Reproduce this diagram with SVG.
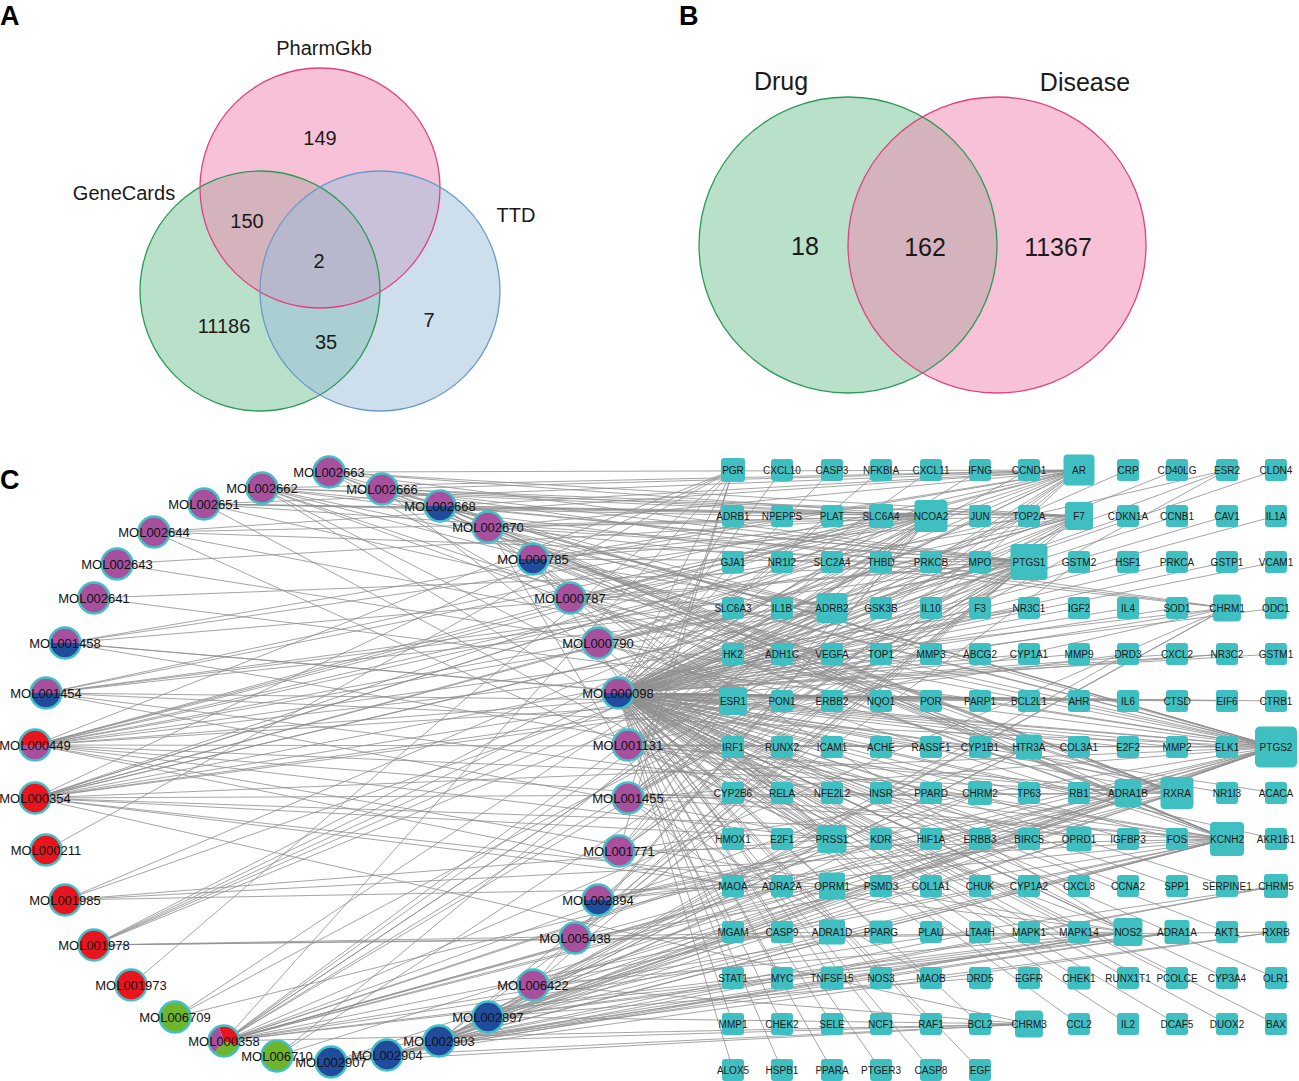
<svg xmlns="http://www.w3.org/2000/svg" xmlns:xlink="http://www.w3.org/1999/xlink" width="1299" height="1081" viewBox="0 0 1299 1081">
<style>
text{font-family:"Liberation Sans",Arial,sans-serif}
.pl{font-size:27px;font-weight:bold;fill:#000}
.vl{font-size:20px;fill:#1a1a1a;text-anchor:middle}
.vb{font-size:25px;fill:#1a1a1a;text-anchor:middle}
.e{fill:none;stroke:#8e8e8e;stroke-width:0.8}
.pu{fill:#a6509e}.bl{fill:#214c9c}.rd{fill:#e8151f}.gr{fill:#6fb52c}
.ml{font-size:13px;fill:#111;text-anchor:middle}
.sq rect{fill:#3fbfc1}
.sq text{font-size:10px;fill:#1a1a1a;text-anchor:middle}
</style>
<defs>
<rect id="s" x="-11" y="-11" width="22" height="22" rx="3" fill="#3fbfc1"/>
<path id="hb" d="M-15.5 0A15.5 15.5 0 0 0 15.5 0Z"/>
<circle id="rg" r="15.5" fill="none" stroke="#3fc1c7" stroke-width="2.5"/>
</defs>
<rect width="1299" height="1081" fill="#fff"/>

<g id="panelA">
<text class="pl" x="0" y="25">A</text>
<circle cx="260" cy="291" r="120" fill="#74c294" fill-opacity="0.5"/>
<circle cx="320" cy="188" r="120" fill="#ef85b1" fill-opacity="0.5"/>
<circle cx="380" cy="291" r="120" fill="#9bbedb" fill-opacity="0.5"/>
<circle cx="260" cy="291" r="120" fill="none" stroke="#2b9a56" stroke-width="1.3"/>
<circle cx="320" cy="188" r="120" fill="none" stroke="#e0427f" stroke-width="1.3"/>
<circle cx="380" cy="291" r="120" fill="none" stroke="#6a9bc9" stroke-width="1.3"/>
<text class="vl" x="324" y="55">PharmGkb</text>
<text class="vl" x="124" y="200">GeneCards</text>
<text class="vl" x="516" y="222">TTD</text>
<text class="vl" x="320" y="145">149</text>
<text class="vl" x="247" y="228">150</text>
<text class="vl" x="319" y="268">2</text>
<text class="vl" x="224" y="333">11186</text>
<text class="vl" x="326" y="349">35</text>
<text class="vl" x="429" y="327">7</text>
</g>

<g id="panelB">
<text class="pl" x="679" y="25">B</text>
<ellipse cx="848" cy="245" rx="149" ry="148" fill="#74c294" fill-opacity="0.5"/>
<ellipse cx="997" cy="245" rx="149" ry="148" fill="#ef85b1" fill-opacity="0.5"/>
<ellipse cx="848" cy="245" rx="149" ry="148" fill="none" stroke="#2b9a56" stroke-width="1.3"/>
<ellipse cx="997" cy="245" rx="149" ry="148" fill="none" stroke="#e0427f" stroke-width="1.3"/>
<text class="vb" x="781" y="90">Drug</text>
<text class="vb" x="1085" y="91">Disease</text>
<text class="vb" x="805" y="255">18</text>
<text class="vb" x="925" y="256">162</text>
<text class="vb" x="1058" y="256">11367</text>
</g>

<text class="pl" x="0" y="489">C</text>

<g id="connectors" class="e">
<path d="M329 472L1029 562M329 472L1276 747M329 472L931 516M329 472L1079 470M329 472L1079 516M329 472L1177 793M329 472L1227 839M329 472L733 701"/>
<path d="M262 488L1029 562M262 488L1276 747M262 488L931 516M262 488L1079 470M262 488L1079 516M262 488L1227 839M262 488L1227 608M262 488L832 608M262 488L832 839M262 488L1128 932M262 488L1177 793"/>
<path d="M204 504L1029 562M204 504L1276 747M204 504L931 516M204 504L1079 516M204 504L1079 470M204 504L832 839M204 504L782 516"/>
<path d="M154 532L1029 562M154 532L1276 747M154 532L931 516M154 532L832 839M154 532L1079 470"/>
<path d="M117 564L1276 747M117 564L931 516"/>
<path d="M94 598L1029 562M94 598L1276 747"/>
<path d="M65 643L1029 562M65 643L1276 747M65 643L931 516M65 643L733 701M65 643L1079 470M65 643L1227 839"/>
<path d="M46 693L1029 562M46 693L1276 747M46 693L931 516M46 693L733 701M46 693L1079 470M46 693L1227 839M46 693L832 608M46 693L832 839M46 693L733 608"/>
<path d="M35 745L1029 562M35 745L1276 747M35 745L931 516M35 745L1079 470M35 745L733 470M35 745L733 701M35 745L1227 470M35 745L1227 839M35 745L1177 793M35 745L1227 654M35 745L1029 608M35 745L832 839M35 745L1079 516M35 745L832 608M35 745L1227 608M35 745L1128 932M35 745L881 516M35 745L733 886"/>
<path d="M35 798L1029 562M35 798L1276 747M35 798L931 516M35 798L1079 470M35 798L733 470M35 798L733 701M35 798L1227 839M35 798L1177 793M35 798L1029 608M35 798L1227 608M35 798L832 608M35 798L832 839M35 798L1079 516M35 798L1029 1024M35 798L1128 932M35 798L832 886M35 798L881 516M35 798L733 608M35 798L1128 654"/>
<path d="M46 850L733 470"/>
<path d="M65 900L1079 470M65 900L1029 562M65 900L832 839M65 900L1227 839M65 900L832 886"/>
<path d="M94 945L1029 562M94 945L931 516M94 945L1079 470M94 945L1079 516M94 945L832 608M94 945L1128 932M94 945L1276 932M94 945L832 932"/>
<path d="M131 985L733 470"/>
<path d="M175 1017L1029 562M175 1017L1276 747M175 1017L931 516"/>
<path d="M224 1041L1029 562M224 1041L1276 747M224 1041L931 516M224 1041L1079 470M224 1041L733 701M224 1041L733 470M224 1041L1227 839M224 1041L1177 793M224 1041L832 608M224 1041L1227 608M224 1041L1029 1024M224 1041L1128 793M224 1041L1177 932M224 1041L832 839M224 1041L1079 516M224 1041L832 886M224 1041L1029 747M224 1041L1128 932M224 1041L881 932M224 1041L1276 886M224 1041L782 886M224 1041L980 793"/>
<path d="M277 1056L1029 562M277 1056L1276 747M277 1056L931 516"/>
<path d="M331 1062L1276 747M331 1062L1227 839M331 1062L1029 1024M331 1062L1128 932M331 1062L1177 932"/>
<path d="M387 1055L1276 747M387 1055L1227 839M387 1055L1029 1024M387 1055L1128 932M387 1055L1276 932M387 1055L1276 886"/>
<path d="M439 1041L1029 562M439 1041L1276 747M439 1041L1227 839M439 1041L1177 793M439 1041L1227 608M439 1041L1029 1024M439 1041L1276 886M439 1041L1177 932M439 1041L1128 793M439 1041L1128 932M439 1041L1079 839M439 1041L1029 747M439 1041L1276 932M439 1041L832 839M439 1041L832 886M439 1041L1079 562M439 1041L1128 654M439 1041L980 932M439 1041L980 793"/>
<path d="M488 1017L1276 747M488 1017L1227 839M488 1017L1177 793M488 1017L1227 608M488 1017L1029 1024M488 1017L1128 793M488 1017L1177 932M488 1017L1128 932M488 1017L1029 747M488 1017L1079 839M488 1017L782 886M488 1017L980 978"/>
<path d="M533 985L1029 562M533 985L1276 747M533 985L1227 839M533 985L1177 793M533 985L931 516M533 985L832 839M533 985L1029 1024M533 985L1128 932"/>
<path d="M575 938L1029 562M575 938L1276 747M575 938L1227 839M575 938L931 516M575 938L1079 470M575 938L1079 516"/>
<path d="M598 900L1029 562M598 900L1276 747M598 900L1227 839M598 900L1177 793M598 900L1128 793M598 900L1079 839"/>
<path d="M619 851L1029 562M619 851L1276 747M619 851L931 516M619 851L1079 470M619 851L733 470M619 851L733 701M619 851L1227 839M619 851L1079 516"/>
<path d="M628 798L1029 562M628 798L1276 747M628 798L931 516M628 798L1079 470M628 798L733 470M628 798L733 701M628 798L1227 470M628 798L1227 839M628 798L1177 793M628 798L1079 516M628 798L733 886M628 798L931 978"/>
<path d="M628 745L1029 562M628 745L1276 747M628 745L931 516M628 745L1079 470M628 745L733 701M628 745L1227 839M628 745L1177 793M628 745L1079 516M628 745L832 608M628 745L832 839M628 745L1227 608M628 745L1128 932M628 745L1029 747M628 745L1128 793M628 745L1079 839M628 745L881 516"/>
<path d="M618 693L733 470M618 693L782 470M618 693L832 470M618 693L881 470M618 693L931 470M618 693L980 470M618 693L1029 470M618 693L1079 470M618 693L1128 470M618 693L1177 470M618 693L1227 470M618 693L1276 470
M618 693L733 516M618 693L832 516M618 693L931 516M618 693L980 516M618 693L1029 516M618 693L1079 516M618 693L1128 516M618 693L1177 516M618 693L1227 516M618 693L1276 516
M618 693L733 562M618 693L782 562M618 693L832 562M618 693L881 562M618 693L931 562M618 693L980 562M618 693L1029 562M618 693L1128 562M618 693L1177 562M618 693L1227 562M618 693L1276 562
M618 693L782 608M618 693L832 608M618 693L881 608M618 693L931 608M618 693L980 608M618 693L1029 608M618 693L1079 608M618 693L1128 608M618 693L1177 608M618 693L1276 608
M618 693L733 654M618 693L782 654M618 693L832 654M618 693L881 654M618 693L931 654M618 693L980 654M618 693L1029 654M618 693L1079 654M618 693L1177 654M618 693L1227 654M618 693L1276 654
M618 693L733 701M618 693L782 701M618 693L832 701M618 693L881 701M618 693L931 701M618 693L980 701M618 693L1029 701M618 693L1079 701M618 693L1128 701M618 693L1177 701M618 693L1227 701M618 693L1276 701
M618 693L733 747M618 693L782 747M618 693L832 747M618 693L881 747M618 693L931 747M618 693L980 747M618 693L1079 747M618 693L1128 747M618 693L1177 747M618 693L1227 747M618 693L1276 747
M618 693L733 793M618 693L782 793M618 693L832 793M618 693L881 793M618 693L931 793M618 693L1029 793M618 693L1079 793M618 693L1177 793M618 693L1227 793M618 693L1276 793
M618 693L733 839M618 693L782 839M618 693L832 839M618 693L881 839M618 693L931 839M618 693L980 839M618 693L1029 839M618 693L1128 839M618 693L1177 839M618 693L1276 839
M618 693L881 886M618 693L931 886M618 693L980 886M618 693L1029 886M618 693L1079 886M618 693L1128 886M618 693L1177 886M618 693L1227 886
M618 693L782 932M618 693L881 932M618 693L931 932M618 693L1029 932M618 693L1079 932M618 693L1128 932M618 693L1227 932
M618 693L733 978M618 693L782 978M618 693L881 978M618 693L1029 978M618 693L1079 978M618 693L1128 978M618 693L1177 978M618 693L1227 978M618 693L1276 978
M618 693L733 1024M618 693L782 1024M618 693L832 1024M618 693L881 1024M618 693L931 1024M618 693L980 1024M618 693L1079 1024M618 693L1128 1024M618 693L1177 1024M618 693L1227 1024M618 693L1276 1024
M618 693L733 1070M618 693L782 1070M618 693L832 1070M618 693L881 1070M618 693L931 1070M618 693L980 1070"/>
<path d="M598 643L1029 562M598 643L1276 747M598 643L931 516M598 643L1079 470M598 643L1227 839M598 643L1177 793M598 643L1079 516M598 643L832 839"/>
<path d="M570 598L1029 562M570 598L1276 747M570 598L931 516M570 598L1079 470M570 598L1227 839M570 598L1177 793M570 598L1079 516M570 598L832 608"/>
<path d="M533 559L1029 562M533 559L1276 747M533 559L931 516M533 559L1079 470M533 559L1227 839M533 559L1177 793M533 559L1079 516M533 559L832 608M533 559L733 701M533 559L832 839M533 559L832 978"/>
<path d="M488 527L1029 562M488 527L1276 747M488 527L931 516M488 527L1079 470M488 527L1227 839M488 527L1177 793M488 527L1079 516M488 527L1227 608M488 527L832 608M488 527L832 839M488 527L733 932"/>
<path d="M440 506L1029 562M440 506L1276 747M440 506L931 516M440 506L1079 470M440 506L1227 839M440 506L1177 793M440 506L1079 516M440 506L733 701M440 506L1128 932M440 506L1128 793"/>
<path d="M382 489L1029 562M382 489L1276 747M382 489L931 516M382 489L1079 470M382 489L1227 839M382 489L1177 793M382 489L1079 516M382 489L1227 608M382 489L832 839M382 489L832 608"/>
</g>

<g id="targets">
<g id="PGR" class="sq" transform="translate(733 470)"><rect x="-12" y="-12" width="24" height="24" rx="3"/><text y="3.5">PGR</text></g>
<g id="CXCL10" class="sq" transform="translate(782 470)"><use href="#s"/><text y="3.5">CXCL10</text></g>
<g id="CASP3" class="sq" transform="translate(832 470)"><use href="#s"/><text y="3.5">CASP3</text></g>
<g id="NFKBIA" class="sq" transform="translate(881 470)"><use href="#s"/><text y="3.5">NFKBIA</text></g>
<g id="CXCL11" class="sq" transform="translate(931 470)"><use href="#s"/><text y="3.5">CXCL11</text></g>
<g id="IFNG" class="sq" transform="translate(980 470)"><use href="#s"/><text y="3.5">IFNG</text></g>
<g id="CCND1" class="sq" transform="translate(1029 470)"><use href="#s"/><text y="3.5">CCND1</text></g>
<g id="AR" class="sq" transform="translate(1079 470)"><rect x="-15.5" y="-15.5" width="31" height="31" rx="4"/><text y="3.5">AR</text></g>
<g id="CRP" class="sq" transform="translate(1128 470)"><use href="#s"/><text y="3.5">CRP</text></g>
<g id="CD40LG" class="sq" transform="translate(1177 470)"><use href="#s"/><text y="3.5">CD40LG</text></g>
<g id="ESR2" class="sq" transform="translate(1227 470)"><use href="#s"/><text y="3.5">ESR2</text></g>
<g id="CLDN4" class="sq" transform="translate(1276 470)"><use href="#s"/><text y="3.5">CLDN4</text></g>

<g id="ADRB1" class="sq" transform="translate(733 516)"><use href="#s"/><text y="3.5">ADRB1</text></g>
<g id="NPEPPS" class="sq" transform="translate(782 516)"><use href="#s"/><text y="3.5">NPEPPS</text></g>
<g id="PLAT" class="sq" transform="translate(832 516)"><use href="#s"/><text y="3.5">PLAT</text></g>
<g id="SLC6A4" class="sq" transform="translate(881 516)"><rect x="-12" y="-12" width="24" height="24" rx="3"/><text y="3.5">SLC6A4</text></g>
<g id="NCOA2" class="sq" transform="translate(931 516)"><rect x="-16.5" y="-16" width="33" height="32" rx="4"/><text y="3.5">NCOA2</text></g>
<g id="JUN" class="sq" transform="translate(980 516)"><use href="#s"/><text y="3.5">JUN</text></g>
<g id="TOP2A" class="sq" transform="translate(1029 516)"><use href="#s"/><text y="3.5">TOP2A</text></g>
<g id="F7" class="sq" transform="translate(1079 516)"><rect x="-14" y="-14" width="28" height="28" rx="4"/><text y="3.5">F7</text></g>
<g id="CDKN1A" class="sq" transform="translate(1128 516)"><use href="#s"/><text y="3.5">CDKN1A</text></g>
<g id="CCNB1" class="sq" transform="translate(1177 516)"><use href="#s"/><text y="3.5">CCNB1</text></g>
<g id="CAV1" class="sq" transform="translate(1227 516)"><use href="#s"/><text y="3.5">CAV1</text></g>
<g id="IL1A" class="sq" transform="translate(1276 516)"><use href="#s"/><text y="3.5">IL1A</text></g>

<g id="GJA1" class="sq" transform="translate(733 562)"><use href="#s"/><text y="3.5">GJA1</text></g>
<g id="NR1I2" class="sq" transform="translate(782 562)"><use href="#s"/><text y="3.5">NR1I2</text></g>
<g id="SLC2A4" class="sq" transform="translate(832 562)"><use href="#s"/><text y="3.5">SLC2A4</text></g>
<g id="THBD" class="sq" transform="translate(881 562)"><use href="#s"/><text y="3.5">THBD</text></g>
<g id="PRKCB" class="sq" transform="translate(931 562)"><use href="#s"/><text y="3.5">PRKCB</text></g>
<g id="MPO" class="sq" transform="translate(980 562)"><use href="#s"/><text y="3.5">MPO</text></g>
<g id="PTGS1" class="sq" transform="translate(1029 562)"><rect x="-18.5" y="-18" width="37" height="36" rx="4"/><text y="3.5">PTGS1</text></g>
<g id="GSTM2" class="sq" transform="translate(1079 562)"><use href="#s"/><text y="3.5">GSTM2</text></g>
<g id="HSF1" class="sq" transform="translate(1128 562)"><use href="#s"/><text y="3.5">HSF1</text></g>
<g id="PRKCA" class="sq" transform="translate(1177 562)"><use href="#s"/><text y="3.5">PRKCA</text></g>
<g id="GSTP1" class="sq" transform="translate(1227 562)"><use href="#s"/><text y="3.5">GSTP1</text></g>
<g id="VCAM1" class="sq" transform="translate(1276 562)"><use href="#s"/><text y="3.5">VCAM1</text></g>

<g id="SLC6A3" class="sq" transform="translate(733 608)"><use href="#s"/><text y="3.5">SLC6A3</text></g>
<g id="IL1B" class="sq" transform="translate(782 608)"><use href="#s"/><text y="3.5">IL1B</text></g>
<g id="ADRB2" class="sq" transform="translate(832 608)"><rect x="-15.5" y="-15" width="31" height="30" rx="4"/><text y="3.5">ADRB2</text></g>
<g id="GSK3B" class="sq" transform="translate(881 608)"><use href="#s"/><text y="3.5">GSK3B</text></g>
<g id="IL10" class="sq" transform="translate(931 608)"><use href="#s"/><text y="3.5">IL10</text></g>
<g id="F3" class="sq" transform="translate(980 608)"><use href="#s"/><text y="3.5">F3</text></g>
<g id="NR3C1" class="sq" transform="translate(1029 608)"><use href="#s"/><text y="3.5">NR3C1</text></g>
<g id="IGF2" class="sq" transform="translate(1079 608)"><use href="#s"/><text y="3.5">IGF2</text></g>
<g id="IL4" class="sq" transform="translate(1128 608)"><use href="#s"/><text y="3.5">IL4</text></g>
<g id="SOD1" class="sq" transform="translate(1177 608)"><use href="#s"/><text y="3.5">SOD1</text></g>
<g id="CHRM1" class="sq" transform="translate(1227 608)"><rect x="-14" y="-13.5" width="28" height="27" rx="4"/><text y="3.5">CHRM1</text></g>
<g id="ODC1" class="sq" transform="translate(1276 608)"><use href="#s"/><text y="3.5">ODC1</text></g>

<g id="HK2" class="sq" transform="translate(733 654)"><use href="#s"/><text y="3.5">HK2</text></g>
<g id="ADH1C" class="sq" transform="translate(782 654)"><use href="#s"/><text y="3.5">ADH1C</text></g>
<g id="VEGFA" class="sq" transform="translate(832 654)"><use href="#s"/><text y="3.5">VEGFA</text></g>
<g id="TOP1" class="sq" transform="translate(881 654)"><use href="#s"/><text y="3.5">TOP1</text></g>
<g id="MMP3" class="sq" transform="translate(931 654)"><use href="#s"/><text y="3.5">MMP3</text></g>
<g id="ABCG2" class="sq" transform="translate(980 654)"><use href="#s"/><text y="3.5">ABCG2</text></g>
<g id="CYP1A1" class="sq" transform="translate(1029 654)"><use href="#s"/><text y="3.5">CYP1A1</text></g>
<g id="MMP9" class="sq" transform="translate(1079 654)"><use href="#s"/><text y="3.5">MMP9</text></g>
<g id="DRD3" class="sq" transform="translate(1128 654)"><use href="#s"/><text y="3.5">DRD3</text></g>
<g id="CXCL2" class="sq" transform="translate(1177 654)"><use href="#s"/><text y="3.5">CXCL2</text></g>
<g id="NR3C2" class="sq" transform="translate(1227 654)"><use href="#s"/><text y="3.5">NR3C2</text></g>
<g id="GSTM1" class="sq" transform="translate(1276 654)"><use href="#s"/><text y="3.5">GSTM1</text></g>

<g id="ESR1" class="sq" transform="translate(733 701)"><rect x="-14" y="-14" width="28" height="28" rx="4"/><text y="3.5">ESR1</text></g>
<g id="PON1" class="sq" transform="translate(782 701)"><use href="#s"/><text y="3.5">PON1</text></g>
<g id="ERBB2" class="sq" transform="translate(832 701)"><use href="#s"/><text y="3.5">ERBB2</text></g>
<g id="NQO1" class="sq" transform="translate(881 701)"><use href="#s"/><text y="3.5">NQO1</text></g>
<g id="POR" class="sq" transform="translate(931 701)"><use href="#s"/><text y="3.5">POR</text></g>
<g id="PARP1" class="sq" transform="translate(980 701)"><use href="#s"/><text y="3.5">PARP1</text></g>
<g id="BCL2L1" class="sq" transform="translate(1029 701)"><use href="#s"/><text y="3.5">BCL2L1</text></g>
<g id="AHR" class="sq" transform="translate(1079 701)"><use href="#s"/><text y="3.5">AHR</text></g>
<g id="IL6" class="sq" transform="translate(1128 701)"><use href="#s"/><text y="3.5">IL6</text></g>
<g id="CTSD" class="sq" transform="translate(1177 701)"><use href="#s"/><text y="3.5">CTSD</text></g>
<g id="EIF6" class="sq" transform="translate(1227 701)"><use href="#s"/><text y="3.5">EIF6</text></g>
<g id="CTRB1" class="sq" transform="translate(1276 701)"><use href="#s"/><text y="3.5">CTRB1</text></g>

<g id="IRF1" class="sq" transform="translate(733 747)"><use href="#s"/><text y="3.5">IRF1</text></g>
<g id="RUNX2" class="sq" transform="translate(782 747)"><use href="#s"/><text y="3.5">RUNX2</text></g>
<g id="ICAM1" class="sq" transform="translate(832 747)"><use href="#s"/><text y="3.5">ICAM1</text></g>
<g id="ACHE" class="sq" transform="translate(881 747)"><use href="#s"/><text y="3.5">ACHE</text></g>
<g id="RASSF1" class="sq" transform="translate(931 747)"><use href="#s"/><text y="3.5">RASSF1</text></g>
<g id="CYP1B1" class="sq" transform="translate(980 747)"><use href="#s"/><text y="3.5">CYP1B1</text></g>
<g id="HTR3A" class="sq" transform="translate(1029 747)"><rect x="-13" y="-12.5" width="26" height="25" rx="3"/><text y="3.5">HTR3A</text></g>
<g id="COL3A1" class="sq" transform="translate(1079 747)"><use href="#s"/><text y="3.5">COL3A1</text></g>
<g id="E2F2" class="sq" transform="translate(1128 747)"><use href="#s"/><text y="3.5">E2F2</text></g>
<g id="MMP2" class="sq" transform="translate(1177 747)"><use href="#s"/><text y="3.5">MMP2</text></g>
<g id="ELK1" class="sq" transform="translate(1227 747)"><use href="#s"/><text y="3.5">ELK1</text></g>
<g id="PTGS2" class="sq" transform="translate(1276 747)"><rect x="-21" y="-20.5" width="42" height="41" rx="5"/><text y="3.5">PTGS2</text></g>

<g id="CYP2B6" class="sq" transform="translate(733 793)"><use href="#s"/><text y="3.5">CYP2B6</text></g>
<g id="RELA" class="sq" transform="translate(782 793)"><use href="#s"/><text y="3.5">RELA</text></g>
<g id="NFE2L2" class="sq" transform="translate(832 793)"><use href="#s"/><text y="3.5">NFE2L2</text></g>
<g id="INSR" class="sq" transform="translate(881 793)"><use href="#s"/><text y="3.5">INSR</text></g>
<g id="PPARD" class="sq" transform="translate(931 793)"><use href="#s"/><text y="3.5">PPARD</text></g>
<g id="CHRM2" class="sq" transform="translate(980 793)"><rect x="-12" y="-12" width="24" height="24" rx="3"/><text y="3.5">CHRM2</text></g>
<g id="TP63" class="sq" transform="translate(1029 793)"><use href="#s"/><text y="3.5">TP63</text></g>
<g id="RB1" class="sq" transform="translate(1079 793)"><use href="#s"/><text y="3.5">RB1</text></g>
<g id="ADRA1B" class="sq" transform="translate(1128 793)"><rect x="-13.5" y="-14" width="27" height="28" rx="4"/><text y="3.5">ADRA1B</text></g>
<g id="RXRA" class="sq" transform="translate(1177 793)"><rect x="-16.5" y="-16" width="33" height="32" rx="4"/><text y="3.5">RXRA</text></g>
<g id="NR1I3" class="sq" transform="translate(1227 793)"><use href="#s"/><text y="3.5">NR1I3</text></g>
<g id="ACACA" class="sq" transform="translate(1276 793)"><use href="#s"/><text y="3.5">ACACA</text></g>

<g id="HMOX1" class="sq" transform="translate(733 839)"><use href="#s"/><text y="3.5">HMOX1</text></g>
<g id="E2F1" class="sq" transform="translate(782 839)"><use href="#s"/><text y="3.5">E2F1</text></g>
<g id="PRSS1" class="sq" transform="translate(832 839)"><rect x="-14.5" y="-14" width="29" height="28" rx="4"/><text y="3.5">PRSS1</text></g>
<g id="KDR" class="sq" transform="translate(881 839)"><use href="#s"/><text y="3.5">KDR</text></g>
<g id="HIF1A" class="sq" transform="translate(931 839)"><use href="#s"/><text y="3.5">HIF1A</text></g>
<g id="ERBB3" class="sq" transform="translate(980 839)"><use href="#s"/><text y="3.5">ERBB3</text></g>
<g id="BIRC5" class="sq" transform="translate(1029 839)"><use href="#s"/><text y="3.5">BIRC5</text></g>
<g id="OPRD1" class="sq" transform="translate(1079 839)"><rect x="-12.5" y="-12.5" width="25" height="25" rx="3"/><text y="3.5">OPRD1</text></g>
<g id="IGFBP3" class="sq" transform="translate(1128 839)"><use href="#s"/><text y="3.5">IGFBP3</text></g>
<g id="FOS" class="sq" transform="translate(1177 839)"><use href="#s"/><text y="3.5">FOS</text></g>
<g id="KCNH2" class="sq" transform="translate(1227 839)"><rect x="-17" y="-17" width="34" height="34" rx="4"/><text y="3.5">KCNH2</text></g>
<g id="AKR1B1" class="sq" transform="translate(1276 839)"><use href="#s"/><text y="3.5">AKR1B1</text></g>

<g id="MAOA" class="sq" transform="translate(733 886)"><use href="#s"/><text y="3.5">MAOA</text></g>
<g id="ADRA2A" class="sq" transform="translate(782 886)"><use href="#s"/><text y="3.5">ADRA2A</text></g>
<g id="OPRM1" class="sq" transform="translate(832 886)"><rect x="-13" y="-13.5" width="26" height="27" rx="3"/><text y="3.5">OPRM1</text></g>
<g id="PSMD3" class="sq" transform="translate(881 886)"><use href="#s"/><text y="3.5">PSMD3</text></g>
<g id="COL1A1" class="sq" transform="translate(931 886)"><use href="#s"/><text y="3.5">COL1A1</text></g>
<g id="CHUK" class="sq" transform="translate(980 886)"><use href="#s"/><text y="3.5">CHUK</text></g>
<g id="CYP1A2" class="sq" transform="translate(1029 886)"><use href="#s"/><text y="3.5">CYP1A2</text></g>
<g id="CXCL8" class="sq" transform="translate(1079 886)"><use href="#s"/><text y="3.5">CXCL8</text></g>
<g id="CCNA2" class="sq" transform="translate(1128 886)"><use href="#s"/><text y="3.5">CCNA2</text></g>
<g id="SPP1" class="sq" transform="translate(1177 886)"><use href="#s"/><text y="3.5">SPP1</text></g>
<g id="SERPINE1" class="sq" transform="translate(1227 886)"><use href="#s"/><text y="3.5">SERPINE1</text></g>
<g id="CHRM5" class="sq" transform="translate(1276 886)"><rect x="-12" y="-12" width="24" height="24" rx="3"/><text y="3.5">CHRM5</text></g>

<g id="MGAM" class="sq" transform="translate(733 932)"><use href="#s"/><text y="3.5">MGAM</text></g>
<g id="CASP9" class="sq" transform="translate(782 932)"><use href="#s"/><text y="3.5">CASP9</text></g>
<g id="ADRA1D" class="sq" transform="translate(832 932)"><rect x="-13" y="-12.5" width="26" height="25" rx="3"/><text y="3.5">ADRA1D</text></g>
<g id="PPARG" class="sq" transform="translate(881 932)"><rect x="-11.5" y="-11.5" width="23" height="23" rx="3"/><text y="3.5">PPARG</text></g>
<g id="PLAU" class="sq" transform="translate(931 932)"><use href="#s"/><text y="3.5">PLAU</text></g>
<g id="LTA4H" class="sq" transform="translate(980 932)"><use href="#s"/><text y="3.5">LTA4H</text></g>
<g id="MAPK1" class="sq" transform="translate(1029 932)"><use href="#s"/><text y="3.5">MAPK1</text></g>
<g id="MAPK14" class="sq" transform="translate(1079 932)"><use href="#s"/><text y="3.5">MAPK14</text></g>
<g id="NOS2" class="sq" transform="translate(1128 932)"><rect x="-14.5" y="-14" width="29" height="28" rx="4"/><text y="3.5">NOS2</text></g>
<g id="ADRA1A" class="sq" transform="translate(1177 932)"><rect x="-12.5" y="-12" width="25" height="24" rx="3"/><text y="3.5">ADRA1A</text></g>
<g id="AKT1" class="sq" transform="translate(1227 932)"><use href="#s"/><text y="3.5">AKT1</text></g>
<g id="RXRB" class="sq" transform="translate(1276 932)"><use href="#s"/><text y="3.5">RXRB</text></g>

<g id="STAT1" class="sq" transform="translate(733 978)"><use href="#s"/><text y="3.5">STAT1</text></g>
<g id="MYC" class="sq" transform="translate(782 978)"><use href="#s"/><text y="3.5">MYC</text></g>
<g id="TNFSF15" class="sq" transform="translate(832 978)"><rect x="-11.5" y="-11.5" width="23" height="23" rx="3"/><text y="3.5">TNFSF15</text></g>
<g id="NOS3" class="sq" transform="translate(881 978)"><use href="#s"/><text y="3.5">NOS3</text></g>
<g id="MAOB" class="sq" transform="translate(931 978)"><use href="#s"/><text y="3.5">MAOB</text></g>
<g id="DRD5" class="sq" transform="translate(980 978)"><use href="#s"/><text y="3.5">DRD5</text></g>
<g id="EGFR" class="sq" transform="translate(1029 978)"><use href="#s"/><text y="3.5">EGFR</text></g>
<g id="CHEK1" class="sq" transform="translate(1079 978)"><rect x="-11.5" y="-11.5" width="23" height="23" rx="3"/><text y="3.5">CHEK1</text></g>
<g id="RUNX1T1" class="sq" transform="translate(1128 978)"><use href="#s"/><text y="3.5">RUNX1T1</text></g>
<g id="PCOLCE" class="sq" transform="translate(1177 978)"><use href="#s"/><text y="3.5">PCOLCE</text></g>
<g id="CYP3A4" class="sq" transform="translate(1227 978)"><use href="#s"/><text y="3.5">CYP3A4</text></g>
<g id="OLR1" class="sq" transform="translate(1276 978)"><use href="#s"/><text y="3.5">OLR1</text></g>

<g id="MMP1" class="sq" transform="translate(733 1024)"><use href="#s"/><text y="3.5">MMP1</text></g>
<g id="CHEK2" class="sq" transform="translate(782 1024)"><use href="#s"/><text y="3.5">CHEK2</text></g>
<g id="SELE" class="sq" transform="translate(832 1024)"><use href="#s"/><text y="3.5">SELE</text></g>
<g id="NCF1" class="sq" transform="translate(881 1024)"><use href="#s"/><text y="3.5">NCF1</text></g>
<g id="RAF1" class="sq" transform="translate(931 1024)"><use href="#s"/><text y="3.5">RAF1</text></g>
<g id="BCL2" class="sq" transform="translate(980 1024)"><use href="#s"/><text y="3.5">BCL2</text></g>
<g id="CHRM3" class="sq" transform="translate(1029 1024)"><rect x="-14" y="-13.5" width="28" height="27" rx="4"/><text y="3.5">CHRM3</text></g>
<g id="CCL2" class="sq" transform="translate(1079 1024)"><use href="#s"/><text y="3.5">CCL2</text></g>
<g id="IL2" class="sq" transform="translate(1128 1024)"><use href="#s"/><text y="3.5">IL2</text></g>
<g id="DCAF5" class="sq" transform="translate(1177 1024)"><use href="#s"/><text y="3.5">DCAF5</text></g>
<g id="DUOX2" class="sq" transform="translate(1227 1024)"><use href="#s"/><text y="3.5">DUOX2</text></g>
<g id="BAX" class="sq" transform="translate(1276 1024)"><use href="#s"/><text y="3.5">BAX</text></g>

<g id="ALOX5" class="sq" transform="translate(733 1070)"><use href="#s"/><text y="3.5">ALOX5</text></g>
<g id="HSPB1" class="sq" transform="translate(782 1070)"><use href="#s"/><text y="3.5">HSPB1</text></g>
<g id="PPARA" class="sq" transform="translate(832 1070)"><use href="#s"/><text y="3.5">PPARA</text></g>
<g id="PTGER3" class="sq" transform="translate(881 1070)"><use href="#s"/><text y="3.5">PTGER3</text></g>
<g id="CASP8" class="sq" transform="translate(931 1070)"><use href="#s"/><text y="3.5">CASP8</text></g>
<g id="EGF" class="sq" transform="translate(980 1070)"><use href="#s"/><text y="3.5">EGF</text></g>
</g>

<g id="compounds">
<g id="MOL002663" transform="translate(329 472)"><circle class="pu" r="15.5"/><use href="#rg"/><text class="ml" y="4.5">MOL002663</text></g>
<g id="MOL002662" transform="translate(262 488)"><circle class="pu" r="15.5"/><use href="#rg"/><text class="ml" y="4.5">MOL002662</text></g>
<g id="MOL002651" transform="translate(204 504)"><circle class="pu" r="15.5"/><use href="#rg"/><text class="ml" y="4.5">MOL002651</text></g>
<g id="MOL002644" transform="translate(154 532)"><circle class="pu" r="15.5"/><use href="#rg"/><text class="ml" y="4.5">MOL002644</text></g>
<g id="MOL002643" transform="translate(117 564)"><circle class="pu" r="15.5"/><use href="#rg"/><text class="ml" y="4.5">MOL002643</text></g>
<g id="MOL002641" transform="translate(94 598)"><circle class="pu" r="15.5"/><use href="#rg"/><text class="ml" y="4.5">MOL002641</text></g>
<g id="MOL001458" transform="translate(65 643)"><circle class="pu" r="15.5"/><use href="#hb" class="bl"/><use href="#rg"/><text class="ml" y="4.5">MOL001458</text></g>
<g id="MOL001454" transform="translate(46 693)"><circle class="pu" r="15.5"/><use href="#hb" class="bl"/><use href="#rg"/><text class="ml" y="4.5">MOL001454</text></g>
<g id="MOL000449" transform="translate(35 745)"><circle class="rd" r="15.5"/><use href="#hb" class="pu"/><use href="#rg"/><text class="ml" y="4.5">MOL000449</text></g>
<g id="MOL000354" transform="translate(35 798)"><circle class="rd" r="15.5"/><use href="#rg"/><text class="ml" y="4.5">MOL000354</text></g>
<g id="MOL000211" transform="translate(46 850)"><circle class="rd" r="15.5"/><use href="#rg"/><text class="ml" y="4.5">MOL000211</text></g>
<g id="MOL001985" transform="translate(65 900)"><circle class="rd" r="15.5"/><use href="#rg"/><text class="ml" y="4.5">MOL001985</text></g>
<g id="MOL001978" transform="translate(94 945)"><circle class="rd" r="15.5"/><use href="#rg"/><text class="ml" y="4.5">MOL001978</text></g>
<g id="MOL001973" transform="translate(131 985)"><circle class="rd" r="15.5"/><use href="#rg"/><text class="ml" y="4.5">MOL001973</text></g>
<g id="MOL006709" transform="translate(175 1017)"><circle class="gr" r="15.5"/><use href="#rg"/><text class="ml" y="4.5">MOL006709</text></g>
<g id="MOL000358" transform="translate(224 1041)"><path class="rd" d="M0 0L-5.3 -14.6A15.5 15.5 0 0 1 14.6 5.3Z"/><path class="gr" d="M0 0L14.6 5.3A15.5 15.5 0 0 1 -10 11.9Z"/><path class="pu" d="M0 0L-10 11.9A15.5 15.5 0 0 1 -5.3 -14.6Z"/><use href="#rg"/><text class="ml" y="4.5">MOL000358</text></g>
<g id="MOL006710" transform="translate(277 1056)"><circle class="gr" r="15.5"/><use href="#rg"/><text class="ml" y="4.5">MOL006710</text></g>
<g id="MOL002907" transform="translate(331 1062)"><circle class="bl" r="15.5"/><use href="#rg"/><text class="ml" y="4.5">MOL002907</text></g>
<g id="MOL002904" transform="translate(387 1055)"><circle class="bl" r="15.5"/><use href="#rg"/><text class="ml" y="4.5">MOL002904</text></g>
<g id="MOL002903" transform="translate(439 1041)"><circle class="bl" r="15.5"/><use href="#rg"/><text class="ml" y="4.5">MOL002903</text></g>
<g id="MOL002897" transform="translate(488 1017)"><circle class="bl" r="15.5"/><use href="#rg"/><text class="ml" y="4.5">MOL002897</text></g>
<g id="MOL006422" transform="translate(533 985)"><circle class="pu" r="15.5"/><use href="#rg"/><text class="ml" y="4.5">MOL006422</text></g>
<g id="MOL005438" transform="translate(575 938)"><circle class="pu" r="15.5"/><use href="#rg"/><text class="ml" y="4.5">MOL005438</text></g>
<g id="MOL002894" transform="translate(598 900)"><circle class="pu" r="15.5"/><use href="#hb" class="bl"/><use href="#rg"/><text class="ml" y="4.5">MOL002894</text></g>
<g id="MOL001771" transform="translate(619 851)"><circle class="pu" r="15.5"/><use href="#rg"/><text class="ml" y="4.5">MOL001771</text></g>
<g id="MOL001455" transform="translate(628 798)"><circle class="pu" r="15.5"/><use href="#rg"/><text class="ml" y="4.5">MOL001455</text></g>
<g id="MOL001131" transform="translate(628 745)"><circle class="pu" r="15.5"/><use href="#rg"/><text class="ml" y="4.5">MOL001131</text></g>
<g id="MOL000098" transform="translate(618 693)"><circle class="pu" r="15.5"/><use href="#hb" class="bl"/><use href="#rg"/><text class="ml" y="4.5">MOL000098</text></g>
<g id="MOL000790" transform="translate(598 643)"><circle class="pu" r="15.5"/><use href="#rg"/><text class="ml" y="4.5">MOL000790</text></g>
<g id="MOL000787" transform="translate(570 598)"><circle class="pu" r="15.5"/><use href="#rg"/><text class="ml" y="4.5">MOL000787</text></g>
<g id="MOL000785" transform="translate(533 559)"><circle class="pu" r="15.5"/><use href="#hb" class="bl"/><use href="#rg"/><text class="ml" y="4.5">MOL000785</text></g>
<g id="MOL002670" transform="translate(488 527)"><circle class="pu" r="15.5"/><use href="#rg"/><text class="ml" y="4.5">MOL002670</text></g>
<g id="MOL002668" transform="translate(440 506)"><circle class="pu" r="15.5"/><use href="#hb" class="bl"/><use href="#rg"/><text class="ml" y="4.5">MOL002668</text></g>
<g id="MOL002666" transform="translate(382 489)"><circle class="pu" r="15.5"/><use href="#rg"/><text class="ml" y="4.5">MOL002666</text></g>
</g>
</svg>
